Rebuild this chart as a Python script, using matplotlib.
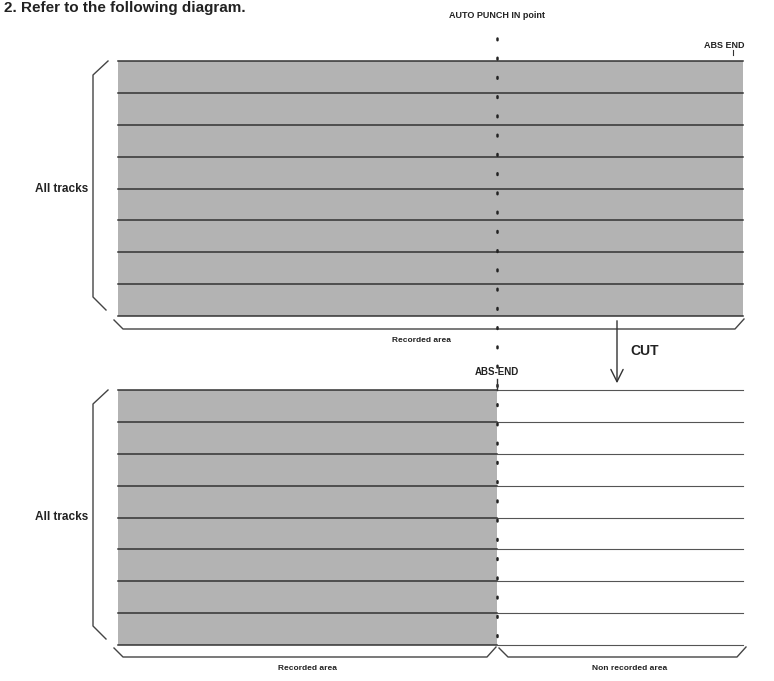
import numpy as np
import matplotlib
matplotlib.use('Agg')
import matplotlib.pyplot as plt

plt.rcParams['font.family'] = ['Liberation Sans', 'DejaVu Sans']

# diagram data
n_tracks = 8
panel_labels = ['All tracks', 'All tracks']
area_labels = ['Recorded area', 'Recorded area', 'Non recorded area']
marker_labels = ['AUTO PUNCH IN point', 'ABS END', 'ABS-END']
title = '2. Refer to the following diagram.'

# layout (pixels)
W, H = 774, 681
x0, x1, xcut = 118, 743, 497
top = (61, 316)
bot = (390, 645)
gray = '#b3b3b3'

fig = plt.figure(figsize=(W / 100, H / 100), dpi=100)
ax = fig.add_axes([0, 0, 1, 1])
ax.set_xlim(0, W)
ax.set_ylim(H, 0)
ax.axis('off')

def brace_left(ya, yb):
    ax.plot([108, 93, 93, 106], [ya, ya + 14, yb - 19, yb - 6],
            color='#444444', lw=1.0)

def brace_under(xa, xb, y):
    ax.plot([xa - 4, xa + 5, xb - 8, xb + 1], [y - 9, y, y, y - 10],
            color='#444444', lw=1.0)

# top panel: all tracks recorded
ys = np.linspace(top[0], top[1], n_tracks + 1)
ax.fill_between([x0, x1], top[0], top[1], color=gray, lw=0)
for y in ys:
    ax.plot([x0, x1], [y, y], color='#333333', lw=1.1)
brace_left(top[0], top[1])
ax.text(88, (top[0] + top[1]) / 2, panel_labels[0], ha='right', va='center',
        fontsize=8.5, fontweight='bold', color='#222222')
brace_under(x0, x1, top[1] + 13)
ax.text(421, top[1] + 25, area_labels[0], ha='center', va='center',
        fontsize=6, fontweight='bold', color='#222222')

# bottom panel: recorded up to the cut point
ys = np.linspace(bot[0], bot[1], n_tracks + 1)
ax.fill_between([x0, xcut], bot[0], bot[1], color=gray, lw=0)
for y in ys:
    ax.plot([x0, xcut], [y, y], color='#333333', lw=1.1)
    ax.plot([xcut, x1], [y, y], color='#555555', lw=0.8)
brace_left(bot[0], bot[1])
ax.text(88, (bot[0] + bot[1]) / 2, panel_labels[1], ha='right', va='center',
        fontsize=8.5, fontweight='bold', color='#222222')
brace_under(x0, xcut - 2, bot[1] + 12)
brace_under(xcut + 6, x1 + 2, bot[1] + 12)
ax.text((x0 + xcut) / 2, bot[1] + 24, area_labels[1], ha='center', va='center',
        fontsize=6, fontweight='bold', color='#222222')
ax.text((xcut + x1) / 2 + 10, bot[1] + 24, area_labels[2], ha='center', va='center',
        fontsize=6, fontweight='bold', color='#222222')

# punch-in point dotted line
ax.plot([xcut, xcut], [38, bot[1]], color='#222222', lw=1.8,
        linestyle=(0, (0.7, 7)), dash_capstyle='round')
ax.text(xcut, 15, marker_labels[0], ha='center', va='center',
        fontsize=6.5, fontweight='bold', color='#222222')

# ABS END markers
ax.text(724, 45, marker_labels[1], ha='center', va='center',
        fontsize=6.5, fontweight='bold', color='#222222')
ax.plot([733, 733], [50, 55], color='#333333', lw=0.8)
ax.text(xcut, 372, marker_labels[2], ha='center', va='center',
        fontsize=7, fontweight='bold', color='#222222')
ax.plot([xcut, xcut], [379, bot[0]], color='#333333', lw=1.0)

# CUT arrow
ax.annotate('', xy=(617, 386), xytext=(617, 318),
            arrowprops=dict(arrowstyle='->', lw=1.0, color='#333333',
                            mutation_scale=22))
ax.text(630, 351, 'CUT', ha='left', va='center', fontsize=10,
        fontweight='bold', color='#222222')

# title at the top edge
ax.text(4, 1, title, ha='left', va='top', fontsize=11,
        fontweight='bold', color='#222222')

fig.savefig('out.png', dpi=100)
